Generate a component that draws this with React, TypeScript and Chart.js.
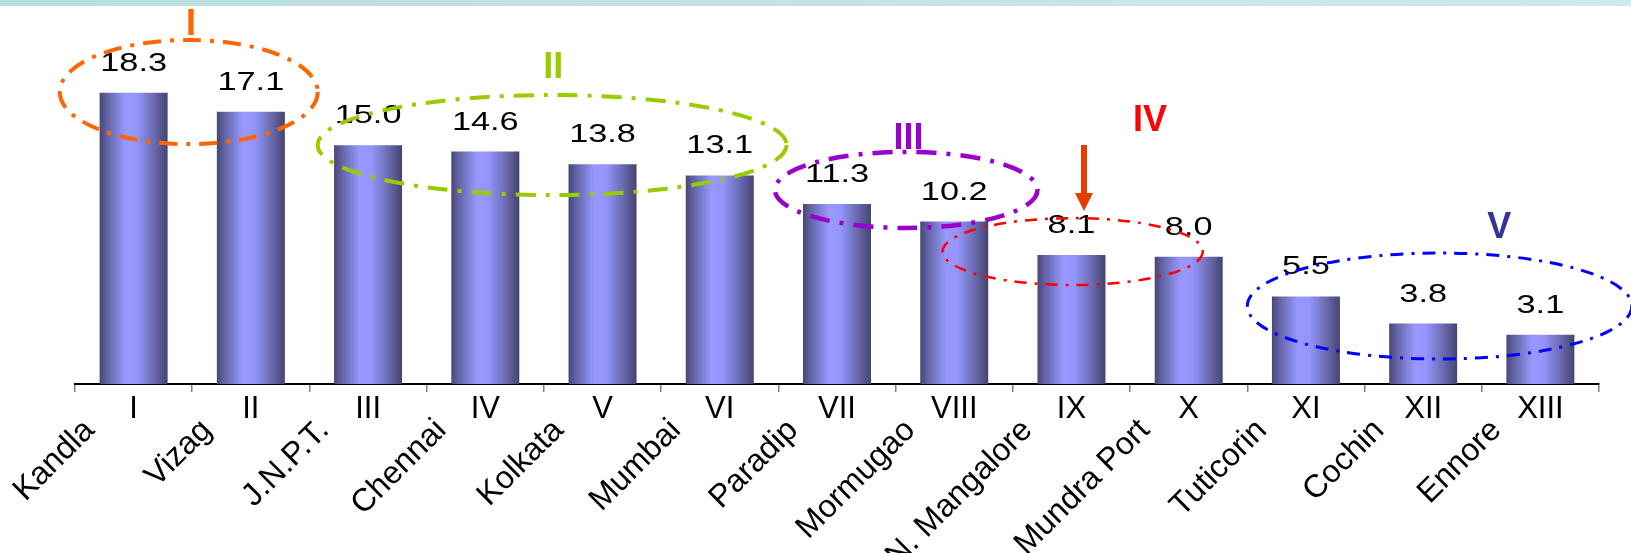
import React, { useEffect, useRef } from 'react';
import { Chart, registerables } from 'chart.js';

Chart.register(...registerables);

// ---- data ----
const romanLabels = ['I', 'II', 'III', 'IV', 'V', 'VI', 'VII', 'VIII', 'IX', 'X', 'XI', 'XII', 'XIII'];
const portNames = ['Kandla', 'Vizag', 'J.N.P.T.', 'Chennai', 'Kolkata', 'Mumbai', 'Paradip', 'Mormugao', 'N. Mangalore', 'Mundra Port', 'Tuticorin', 'Cochin', 'Ennore'];
const values = [18.3, 17.1, 15.0, 14.6, 13.8, 13.1, 11.3, 10.2, 8.1, 8.0, 5.5, 3.8, 3.1];
const valueLabels = ['18.3', '17.1', '15.0', '14.6', '13.8', '13.1', '11.3', '10.2', '8.1', '8.0', '5.5', '3.8', '3.1'];
const groupLabels = ['I', 'II', 'III', 'IV', 'V'];

// ---- annotation geometry (in axis units: category index / value) ----
const ellipseSpecs = [
  { ci: 0.47, cv: 18.34, ri: 1.1, rv: 3.27, color: '#ff6600', width: 4, dash: [18, 9, 4, 9] },
  { ci: 3.57, cv: 15.01, ri: 2.0, rv: 3.14, color: '#99cc00', width: 4, dash: [20, 10, 4, 10] },
  { ci: 6.59, cv: 12.19, ri: 1.12, rv: 2.39, color: '#9900cc', width: 4.5, dash: [20, 10, 4, 10] },
  { ci: 8.01, cv: 8.32, ri: 1.11, rv: 2.1, color: '#ff0000', width: 2.5, dash: [12, 8, 3, 8] },
  { ci: 11.14, cv: 4.9, ri: 1.64, rv: 3.33, color: '#0000ff', width: 3, dash: [13, 8, 3, 8] },
];
const groupLabelSpecs = [
  { ci: 0.49, cv: 21.92, color: '#ff6600' },
  { ci: 3.58, cv: 19.22, color: '#99cc00' },
  { ci: 6.61, cv: 14.76, color: '#9900cc' },
  { ci: 8.67, cv: 15.89, color: '#ff0000' },
  { ci: 11.65, cv: 9.17, color: '#333399' },
];
const arrowSpec = { ci: 8.107, fromV: 15.01, toV: 10.87, color: '#e63c00' };

const FONT = '"Liberation Sans", Arial, Helvetica, sans-serif';

const decorPlugin = {
  id: 'decor',
  afterLayout(chart: any) {
    // let the rotated port names start higher, overlapping the numeral row band
    const s = chart.scales.x2;
    if (s) s.top -= 30;
  },
  beforeDatasetsDraw(chart: any) {
    const { ctx } = chart;
    const meta = chart.getDatasetMeta(0);
    meta.data.forEach((bar: any) => {
      const { x, width } = bar.getProps(['x', 'width'], true);
      const g = ctx.createLinearGradient(x - width / 2, 0, x + width / 2, 0);
      g.addColorStop(0, '#474778');
      g.addColorStop(0.12, '#6565a8');
      g.addColorStop(0.38, '#9898ff');
      g.addColorStop(0.55, '#9494fa');
      g.addColorStop(0.8, '#6a6ab0');
      g.addColorStop(1, '#444470');
      bar.options.backgroundColor = g;
    });
  },
  afterDatasetsDraw(chart: any) {
    const { ctx } = chart;
    const xs = chart.scales.x;
    const ys = chart.scales.y;
    const meta = chart.getDatasetMeta(0);
    ctx.save();
    // value labels (horizontally stretched like the original)
    ctx.font = `26px ${FONT}`;
    ctx.fillStyle = '#000';
    ctx.textAlign = 'center';
    ctx.textBaseline = 'alphabetic';
    meta.data.forEach((bar: any, i: number) => {
      ctx.save();
      ctx.translate(bar.x, bar.y - 22);
      ctx.scale(1.32, 1);
      ctx.fillText(valueLabels[i], 0, 0);
      ctx.restore();
    });
    // ellipses
    ellipseSpecs.forEach((e) => {
      const cx = xs.getPixelForValue(e.ci);
      const cy = ys.getPixelForValue(e.cv);
      const rx = Math.abs(xs.getPixelForValue(e.ci + e.ri) - cx);
      const ry = Math.abs(ys.getPixelForValue(e.cv + e.rv) - cy);
      ctx.beginPath();
      ctx.setLineDash(e.dash);
      ctx.lineWidth = e.width;
      ctx.strokeStyle = e.color;
      ctx.ellipse(cx, cy, rx, ry, 0, 0, Math.PI * 2);
      ctx.stroke();
    });
    ctx.setLineDash([]);
    // group labels
    ctx.font = `bold 36px ${FONT}`;
    ctx.textAlign = 'center';
    ctx.textBaseline = 'alphabetic';
    groupLabelSpecs.forEach((s, i) => {
      ctx.fillStyle = s.color;
      ctx.fillText(groupLabels[i], xs.getPixelForValue(s.ci), ys.getPixelForValue(s.cv));
    });
    // arrow
    const ax = xs.getPixelForValue(arrowSpec.ci);
    const y0 = ys.getPixelForValue(arrowSpec.fromV);
    const y1 = ys.getPixelForValue(arrowSpec.toV);
    ctx.fillStyle = arrowSpec.color;
    ctx.fillRect(ax - 3, y0, 6, y1 - y0 - 17);
    ctx.beginPath();
    ctx.moveTo(ax - 9, y1 - 18);
    ctx.lineTo(ax + 9, y1 - 18);
    ctx.lineTo(ax, y1);
    ctx.closePath();
    ctx.fill();
    ctx.restore();
  },
};

export default function App() {
  const ref = useRef<HTMLCanvasElement>(null);
  useEffect(() => {
    const chart = new Chart(ref.current as HTMLCanvasElement, {
      type: 'bar',
      data: {
        labels: romanLabels,
        datasets: [
          {
            data: values,
            backgroundColor: () => '#8c8cf0',
            borderWidth: 0,
            categoryPercentage: 1,
            barPercentage: 0.58,
            xAxisID: 'x',
            yAxisID: 'y',
          },
        ],
      },
      options: {
        responsive: false,
        animation: false,
        devicePixelRatio: 1,
        layout: { padding: { top: 65.6, left: 75, right: 32, bottom: 0 } },
        plugins: { legend: { display: false }, tooltip: { enabled: false }, title: { display: false } },
        scales: {
          x: {
            type: 'category',
            position: 'bottom',
            weight: 0,
            offset: true,
            grid: { offset: true, drawOnChartArea: false, drawTicks: true, tickLength: 8, color: '#808080', lineWidth: 1.5 },
            border: { display: true, color: '#000', width: 2 },
            ticks: {
              autoSkip: false,
              maxRotation: 0,
              minRotation: 0,
              color: '#000',
              padding: 2,
              font: { family: FONT, size: 31, lineHeight: 1 },
            },
            afterFit: (s: any) => {
              s.height = 36;
              s.paddingLeft = 0;
              s.paddingRight = 0;
            },
          },
          x2: {
            type: 'category',
            position: 'bottom',
            weight: 1,
            offset: true,
            labels: portNames,
            grid: { display: false, drawTicks: false },
            border: { display: false },
            ticks: {
              autoSkip: false,
              maxRotation: 45,
              minRotation: 45,
              color: '#000',
              padding: 24,
              labelOffset: -44,
              font: { family: FONT, size: 32, lineHeight: 1 },
            },
            afterFit: (s: any) => {
              s.height = 133;
              s.paddingLeft = 0;
              s.paddingRight = 0;
            },
          },
          y: {
            display: false,
            min: 0,
            max: 20,
          },
        },
      },
      plugins: [decorPlugin],
    } as any);
    return () => chart.destroy();
  }, []);
  return (
    <div style={{ position: 'fixed', left: 0, top: 0, width: 1631, height: 553, background: '#fff', overflow: 'hidden' }}>
      <canvas ref={ref} width={1631} height={553} style={{ display: 'block' }} />
      <div
        style={{
          position: 'absolute',
          left: 0,
          top: 0,
          width: '100%',
          height: 6,
          background: 'linear-gradient(to right, #b9dde2, #cfe9ec)',
        }}
      />
    </div>
  );
}
